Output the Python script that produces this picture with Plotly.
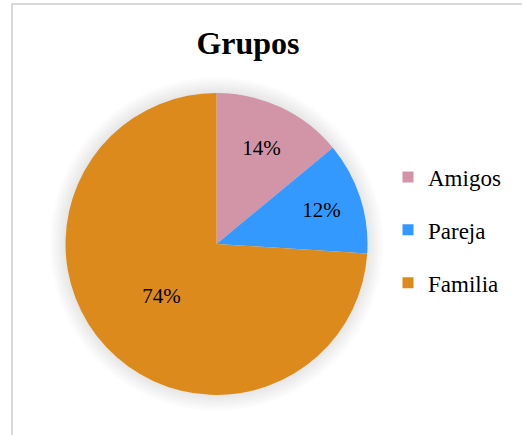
import plotly.graph_objects as go

labels = ["Amigos", "Pareja", "Familia"]
values = [14, 12, 74]
colors = ["#D295A8", "#3399FF", "#DC8A1B"]

W, H = 522, 435
serif = "Liberation Serif"

# pie centre / radius in pixels
cx, cy, r = 216.5, 244, 151

def px(x):
    return x / W

def py(y):
    return 1 - y / H

fig = go.Figure()

fig.add_trace(go.Pie(labels=labels, values=values, sort=False,
                     direction="clockwise", rotation=0,
                     marker=dict(colors=colors, line=dict(width=0)),
                     textinfo="percent", textposition="inside",
                     insidetextorientation="horizontal",
                     textfont=dict(family=serif, size=21, color="black"),
                     domain=dict(x=[px(cx - r), px(cx + r)], y=[py(cy + r), py(cy - r)]),
                     showlegend=False, hoverinfo="label+percent"))

# legend entries as separate groups so the spacing can be set
for lab, col in zip(labels, colors):
    fig.add_trace(go.Scatter(x=[None], y=[None], mode="markers", name=lab,
                             legendgroup=lab,
                             marker=dict(symbol="square", size=11, color=col)))

# soft shadow behind the pie
shapes = []
for k in range(16, 0, -2):
    rr = r + k
    shapes.append(dict(type="circle", xref="paper", yref="paper",
                       x0=px(cx - rr), x1=px(cx + rr), y0=py(cy + rr), y1=py(cy - rr),
                       fillcolor="rgba(0,0,0,0.013)", line=dict(width=0), layer="below"))
# chart border (left and top visible)
shapes.append(dict(type="rect", xref="paper", yref="paper",
                   x0=px(12), x1=px(W + 10), y0=py(H + 10), y1=py(4),
                   line=dict(color="#D9D9D9", width=2), fillcolor="rgba(0,0,0,0)"))

fig.update_layout(
    width=W, height=H,
    margin=dict(l=0, r=0, t=0, b=0),
    paper_bgcolor="white", plot_bgcolor="white",
    title=dict(text="<b>Grupos</b>", x=px(248), xanchor="center",
               y=py(43), yanchor="middle",
               font=dict(family=serif, size=32, color="black")),
    xaxis=dict(visible=False), yaxis=dict(visible=False),
    legend=dict(x=px(388), xanchor="left", y=py(230), yanchor="middle",
                font=dict(family=serif, size=23, color="black"),
                tracegroupgap=20, bgcolor="rgba(0,0,0,0)"),
    shapes=shapes,
)

fig.write_html("out.html", config={"displayModeBar": False},
               post_script="document.body.style.margin='0';")
